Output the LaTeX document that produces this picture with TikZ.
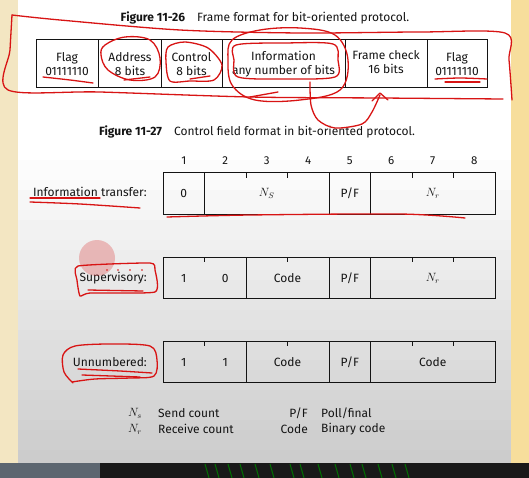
\documentclass[tikz,border=0pt]{standalone}
\usepackage{fontspec}
\setmainfont{Fira Sans}
\definecolor{ink}{HTML}{141414}
\definecolor{pen}{HTML}{D81414}
\definecolor{creamL}{HTML}{F3E6C2}
\definecolor{creamR}{HTML}{F7DE9C}
\definecolor{stripL}{HTML}{5C6670}
\tikzset{
  box/.style={draw=ink, line width=1pt},
  tick/.style={draw=ink, line width=0.8pt},
  txt/.style={text=ink, inner sep=0pt, font=\fontsize{12}{14}\selectfont},
  ctxt/.style={txt, align=center},
  num/.style={txt, font=\fontsize{11.5}{12}\selectfont},
  ttl/.style={txt, font=\fontsize{12}{13}\selectfont},
  annot/.style={draw=pen, line width=1.3pt, line cap=round, line join=round},
}
\begin{document}
\begin{tikzpicture}[x=1pt,y=-1pt]
\useasboundingbox (0,0) rectangle (529,478);
% ---------- background ----------
\fill[creamL] (0,0) rectangle (18,463);
\fill[creamR] (511,0) rectangle (529,463);
\fill[white] (18,0) rectangle (511,160);
\foreach \i in {0,...,30}
  \fill[black!\the\numexpr\i*2/3\relax] (18,{150+\i*10}) rectangle (511,{160.5+\i*10});
\fill[black!20] (18,460) rectangle (511,463);
\fill[black!90] (0,463) rectangle (529,478);
\fill[stripL] (0,463) rectangle (100,478);
\foreach \xx in {205,215,228,240,255,270,290,300,318,335,350,362,378,392,405}
  \draw[green!45!black, line width=1pt] (\xx,464) -- (\xx+4,478);

% ---------- Figure 11-26 ----------
\node[ttl] (t1) at (265,18) {\textbf{Figure 11-26}\quad Frame format for bit-oriented protocol.};
\draw[box] (36,40) rectangle (487,88);
\foreach \xx in {98,161,222,345,427} \draw[box] (\xx,40) -- (\xx,88);
\node[ctxt] (fflag1) at (67,64) {Flag\\01111110};
\node[ctxt] (faddr) at (130,64) {Address\\8 bits};
\node[ctxt] (fctrl) at (191.5,64) {Control\\8 bits};
\node[ctxt] (finfo) at (283.5,64) {Information\\any number of bits};
\node[ctxt] (fchk) at (386,62) {Frame check\\16 bits};
\node[ctxt] (fflag2) at (457,64) {Flag\\01111110};

% ---------- Figure 11-27 ----------
\node[ttl] (t2) at (257,132) {\textbf{Figure 11-27}\quad Control field format in bit-oriented protocol.};
\foreach \i in {1,...,8}
  \node[num] (b\i) at ({163+41.5*(\i-0.5)},161) {\i};

% Information transfer row
\draw[box] (163,173) rectangle (495,214);
\foreach \xx in {204.5,329,370.5} \draw[box] (\xx,173) -- (\xx,214);
\foreach \xx in {246,287.5,412,453.5} \draw[tick] (\xx,173) -- (\xx,178);
\node[txt, anchor=east] (lit) at (147,192) {Information transfer:};
\node[txt] (i0) at (183.75,193.5) {0};
\node[txt] (ins) at (266.75,193.5) {$N_S$};
\node[txt] (ipf) at (349.75,193.5) {P/F};
\node[txt] (inr) at (432.75,193.5) {$N_r$};

% Supervisory row
\draw[box] (163,257) rectangle (495,298);
\foreach \xx in {246,329,370.5} \draw[box] (\xx,257) -- (\xx,298);
\foreach \xx in {204.5,287.5,412,453.5} \draw[tick] (\xx,257) -- (\xx,262);
\node[txt, anchor=east] (lsv) at (147,278) {Supervisory:};
\node[txt] (s1) at (183.75,278) {1};
\node[txt] (s0) at (225.25,278) {0};
\node[txt] (scode) at (287.5,278) {Code};
\node[txt] (spf) at (349.75,278) {P/F};
\node[txt] (snr) at (432.75,278) {$N_r$};

% Unnumbered row
\draw[box] (163,341) rectangle (495,382);
\foreach \xx in {246,329,370.5} \draw[box] (\xx,341) -- (\xx,382);
\foreach \xx in {204.5,287.5,412,453.5} \draw[tick] (\xx,341) -- (\xx,346);
\node[txt, anchor=east] (lun) at (147,362) {Unnumbered:};
\node[txt] (u1) at (183.75,362) {1};
\node[txt] (u2) at (225.25,362) {1};
\node[txt] (ucode) at (287.5,362) {Code};
\node[txt] (upf) at (349.75,362) {P/F};
\node[txt] (ucode2) at (432.75,362) {Code};

% Legend
\node[txt] (kns) at (135,413) {$N_s$};
\node[txt, anchor=west] (vns) at (158,413) {Send count};
\node[txt] (knr) at (135,429) {$N_r$};
\node[txt, anchor=west] (vnr) at (158,429) {Receive count};
\node[txt, anchor=east] (kpf) at (308,413) {P/F};
\node[txt, anchor=west] (vpf) at (321,413) {Poll/final};
\node[txt, anchor=east] (kcd) at (308,429) {Code};
\node[txt, anchor=west] (vcd) at (321,429) {Binary code};

% ---------- red annotations ----------
\draw[annot] plot[smooth, tension=0.5] coordinates {(12,15) (60,20) (180,30) (300,33) (420,32) (505,33) (509,60) (512,100)};
\draw[annot] plot[smooth, tension=0.5] coordinates {(503,99) (380,98) (250,97) (100,92) (8,90) (10,50) (12,15)};
\draw[annot] plot[smooth cycle, tension=0.6] coordinates {(105,45) (125,37) (150,40) (160,58) (155,77) (130,80) (108,70) (101,55)};
\draw[annot] (124,80) -- (150,77);
\draw[annot] plot[smooth cycle, tension=0.5] coordinates {(168,47) (185,42) (208,48) (222,65) (214,80) (190,81) (170,81) (166,62)};
\draw[annot] (190,79) -- (210,76);
\draw[annot] plot[smooth cycle, tension=0.5] coordinates {(236,45) (285,43) (333,44) (338,60) (335,77) (285,79) (238,77) (234,60)};
\draw[annot] plot[smooth cycle, tension=0.6] coordinates {(232,40) (260,30) (300,28) (335,35) (348,60) (340,90) (300,100) (255,100) (232,85) (228,60)};
\draw[annot] (250,97) -- (278,92);
\draw[annot] plot[smooth, tension=0.5] coordinates {(310,82) (311,105) (318,120) (335,128) (362,124) (372,112) (380,95)};
\draw[annot] (372,101) -- (380,93) -- (388,100);
\draw[annot] plot[smooth, tension=0.5] coordinates {(43,77) (70,80) (93,83)};
\draw[annot] plot[smooth, tension=0.5] coordinates {(435,79) (460,78) (487,79)};
\draw[annot] (445,82) -- (480,82);
\draw[annot] (30,198) -- (100,198);
\draw[annot] plot[smooth, tension=0.5] coordinates {(30,202) (80,204) (140,208)};
\draw[annot] plot[smooth, tension=0.5] coordinates {(167,217) (250,215) (400,214) (465,218)};
\fill[pen, opacity=0.25] (97,258) circle (18);
\draw[annot] plot[smooth cycle, tension=0.3] coordinates {(78,266) (150,263) (155,270) (155,292) (90,293) (80,296) (77,280)};
\draw[annot] (88,290) -- (143,291);
\foreach \xx in {107,118,130,142} \fill[pen] (\xx,270) circle (0.9);
\draw[annot] plot[smooth, tension=0.5] coordinates {(73,383) (64,372) (63,355) (75,346) (110,344) (150,346) (157,360) (154,376) (130,378) (95,379) (72,382)};
\draw[annot] plot[smooth, tension=0.5] coordinates {(78,369) (120,371) (152,373)};
\draw[annot] (82,375) -- (140,377);
\end{tikzpicture}
\end{document}
